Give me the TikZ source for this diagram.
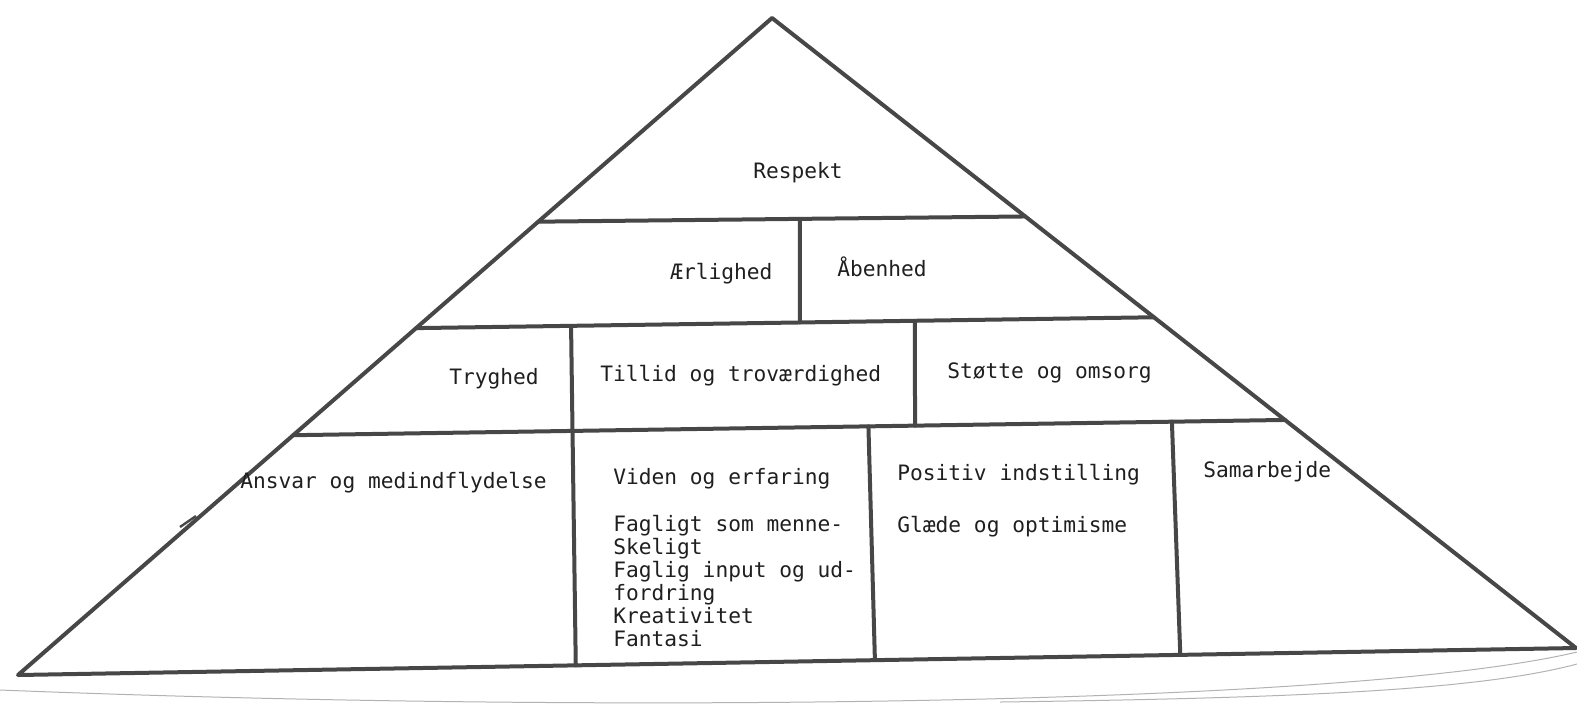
\documentclass[tikz,border=0pt]{standalone}
\usepackage{fontspec}
\newfontfamily\pyrfont{DejaVu Sans Mono}
\usetikzlibrary{calc}

\begin{document}
\begin{tikzpicture}[x=0.5pt, y=-0.5pt,
	edge/.style  = {draw=black!72, line width=2pt, line cap=round, line join=round},
	paper/.style = {draw=black!30, line width=0.5pt},
	word/.style  = {inner sep=0pt, anchor=base west, text=black!88, font=\pyrfont\fontsize{10.6}{11.5}\selectfont}]

	\useasboundingbox (0,0) rectangle (1577,709);

	% corners of the pyramid
	\coordinate (top) at (772,18);
	\coordinate (bl) at (18,675);
	\coordinate (br) at (1576,648);

	% ends of the layer lines on the two sides
	\coordinate (l1w) at ($(top)!0.31!(bl)$);
	\coordinate (l1e) at ($(top)!0.315!(br)$);
	\coordinate (l2w) at ($(top)!0.472!(bl)$);
	\coordinate (l2e) at ($(top)!0.475!(br)$);
	\coordinate (l3w) at ($(top)!0.635!(bl)$);
	\coordinate (l3e) at ($(top)!0.638!(br)$);

	\draw[edge] (bl) -- (top) -- (br) -- cycle;
	\draw[edge] (l1w) -- (l1e);
	\draw[edge] (l2w) -- (l2e);
	\draw[edge] (l3w) -- (l3e);

	% walls between the bricks
	\draw[edge] ($(l1w)!0.537!(l1e)$) -- ($(l2w)!0.52!(l2e)$);
	\draw[edge] ($(l2w)!0.21!(l2e)$) -- ($(bl)!0.358!(br)$);
	\draw[edge] ($(l2w)!0.676!(l2e)$) -- ($(l3w)!0.627!(l3e)$);
	\draw[edge] ($(l3w)!0.58!(l3e)$) -- ($(bl)!0.55!(br)$);
	\draw[edge] ($(l3w)!0.886!(l3e)$) -- ($(bl)!0.746!(br)$);

	% small spur on the left side
	\draw[draw=black!72, line width=1.2pt] (180,527) -- (196,516);

	% edge of the sheet
	\draw[paper] (0,690) .. controls (600,714) and (1350,706) .. (1577,652);
	\draw[paper] (1000,702) .. controls (1300,698) and (1480,690) .. (1577,664);

	\node[word] (resp) at (753,178) {Respekt};
	\node[word] (aerl) at (670,279) {Ærlighed};
	\node[word] (aaben) at (837,276) {Åbenhed};
	\node[word] (tryg) at (449,384) {Tryghed};
	\node[word] (till) at (600,381) {Tillid og troværdighed};
	\node[word] (stot) at (947,378) {Støtte og omsorg};
	\node[word] (ansv) at (240,488) {Ansvar og medindflydelse};
	\node[word] (vid) at (613,484) {Viden og erfaring};
	\node[word] (pos) at (897,480) {Positiv indstilling};
	\node[word] (glad) at (897,532) {Glæde og optimisme};
	\node[word] (sam) at (1203,477) {Samarbejde};

	\foreach \txt [count=\i from 0] in {Fagligt som menne-, Skeligt, Faglig input og ud-, fordring, Kreativitet, Fantasi}
	\node[word] (vid\i) at (613,531+23*\i) {\txt};

\end{tikzpicture}
\end{document}
